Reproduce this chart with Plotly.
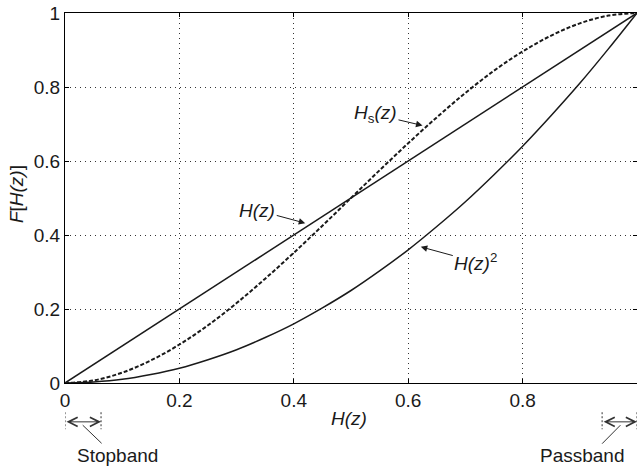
import plotly.graph_objects as go

# Input magnitude H(z) and the three mapping functions F[H(z)]
h = [0.00, 0.05, 0.10, 0.15, 0.20, 0.25, 0.30, 0.35, 0.40, 0.45, 0.50,
     0.55, 0.60, 0.65, 0.70, 0.75, 0.80, 0.85, 0.90, 0.95, 1.00]
f_linear = [0.00, 0.05, 0.10, 0.15, 0.20, 0.25, 0.30, 0.35, 0.40, 0.45, 0.50,
            0.55, 0.60, 0.65, 0.70, 0.75, 0.80, 0.85, 0.90, 0.95, 1.00]
f_square = [0.000, 0.003, 0.010, 0.023, 0.040, 0.063, 0.090, 0.123, 0.160, 0.203, 0.250,
            0.303, 0.360, 0.423, 0.490, 0.563, 0.640, 0.723, 0.810, 0.903, 1.000]
f_sharp = [0.000, 0.007, 0.028, 0.061, 0.104, 0.156, 0.216, 0.282, 0.352, 0.425, 0.500,
           0.575, 0.648, 0.718, 0.784, 0.844, 0.896, 0.939, 0.972, 0.993, 1.000]

tick_vals = [0, 0.2, 0.4, 0.6, 0.8, 1]
tick_text = ["0", "0.2", "0.4", "0.6", "0.8", "1"]

# Band markers along the H(z) axis
stopband = [0.0, 0.063]
passband = [0.939, 1.0]

ink = "#1a1a1a"
font = dict(family="Liberation Sans, Arial, sans-serif", size=19, color=ink)

fig = go.Figure()
fig.add_trace(go.Scatter(x=h, y=f_linear, mode="lines", line=dict(color=ink, width=1.5)))
fig.add_trace(go.Scatter(x=h, y=f_square, mode="lines", line_shape="spline",
                         line=dict(color=ink, width=1.5)))
fig.add_trace(go.Scatter(x=h, y=f_sharp, mode="lines", line_shape="spline",
                         line=dict(color=ink, width=2, dash="4px,2px")))

axis_common = dict(
    range=[0, 1], tickvals=tick_vals, ticktext=tick_text,
    showline=True, linecolor="black", linewidth=1, mirror="ticks",
    ticks="inside", ticklen=4, tickcolor="black",
    showgrid=True, gridcolor="#333333", gridwidth=1, griddash="1px,4px",
    zeroline=False, tickfont=font,
)
fig.update_xaxes(**axis_common)
fig.update_yaxes(**axis_common)

annotations = [
    # axis titles
    dict(text="<i>H(z)</i>", xref="paper", yref="paper", x=0.497, y=-0.097,
         showarrow=False, font=font, xanchor="center", yanchor="middle"),
    dict(text="<i>F</i>[<i>H(z)</i>]", xref="paper", yref="paper", x=-0.086, y=0.51,
         showarrow=False, font=font, textangle=-90, xanchor="center", yanchor="middle"),
    # curve labels
    dict(text="<i>H(z)</i>", x=0.42, y=0.432, xref="x", yref="y", ax=-48, ay=-13,
         showarrow=True, arrowhead=2, arrowsize=1.3, arrowwidth=1, arrowcolor=ink, font=font),
    dict(text="<i>H</i><sub>s</sub><i>(z)</i>", x=0.625, y=0.696, xref="x", yref="y",
         ax=-47, ay=-11, showarrow=True, arrowhead=2, arrowsize=1.3, arrowwidth=1,
         arrowcolor=ink, font=font),
    dict(text="<i>H(z)</i><sup>2</sup>", x=0.622, y=0.368, xref="x", yref="y",
         ax=55, ay=15, showarrow=True, arrowhead=2, arrowsize=1.3, arrowwidth=1,
         arrowcolor=ink, font=font),
    # band labels
    dict(text="Stopband", xref="x", yref="paper", x=0.092, y=-0.195,
         showarrow=False, font=font, xanchor="center", yanchor="middle"),
    dict(text="Passband", xref="x", yref="paper", x=0.905, y=-0.195,
         showarrow=False, font=font, xanchor="center", yanchor="middle"),
]

# double-headed arrows spanning each band
for lo, hi in (stopband, passband):
    annotations.append(dict(
        text="", xref="x", yref="paper", x=hi, y=-0.105,
        axref="x", ayref="pixel", ax=lo, ay=0,
        showarrow=True, arrowhead=5, startarrowhead=5, arrowside="end+start",
        arrowsize=1.8, startarrowsize=1.8, arrowwidth=1, arrowcolor="#333333"))

shapes = []
for xv in stopband + passband:
    shapes.append(dict(type="line", xref="x", yref="paper", x0=xv, x1=xv,
                       y0=-0.079, y1=-0.125,
                       line=dict(color="#333333", width=1, dash="2px,2px")))
# leader lines from arrows to band labels
shapes.append(dict(type="line", xref="x", yref="paper", x0=0.031, x1=0.064,
                   y0=-0.114, y1=-0.163, line=dict(color="#333333", width=1)))
shapes.append(dict(type="line", xref="x", yref="paper", x0=0.971, x1=0.939,
                   y0=-0.114, y1=-0.164, line=dict(color="#333333", width=1)))

fig.update_layout(
    width=637, height=468,
    margin=dict(l=65, r=0, t=13, b=85),
    paper_bgcolor="white", plot_bgcolor="white",
    showlegend=False, font=font,
    annotations=annotations, shapes=shapes,
)

fig.write_html("out.html")
